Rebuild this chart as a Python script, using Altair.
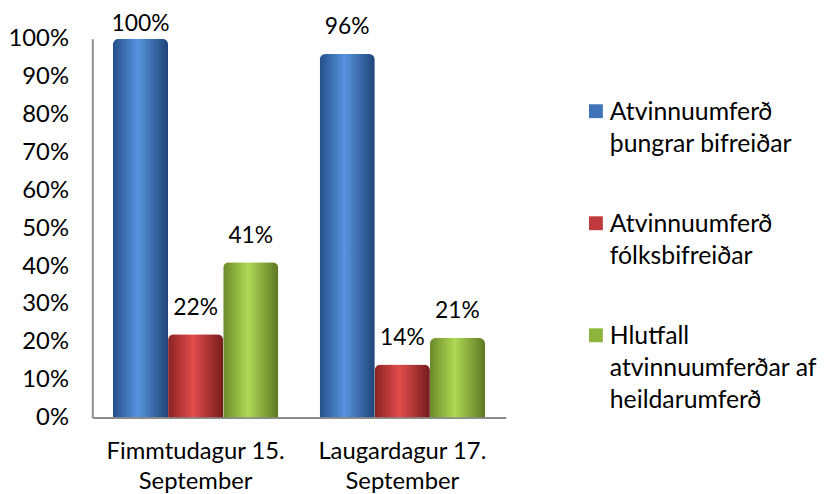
import altair as alt
import pandas as pd

categories = ["Fimmtudagur 15.\nSeptember", "Laugardagur 17.\nSeptember"]
series = [
    "Atvinnuumferð\nþungrar bifreiðar",
    "Atvinnuumferð\nfólksbifreiðar",
    "Hlutfall\natvinnuumferðar af\nheildarumferð",
]
heavy_values = [100, 96]
car_values = [22, 14]
share_values = [41, 21]
base_colors = ["#3f73b8", "#c0393b", "#8db53c"]
gradients = [
    ("#234f8a", "#5893df", "#1f4478"),
    ("#8a2222", "#e24c4c", "#761c1c"),
    ("#6a8a28", "#b0d854", "#5c7822"),
]

rows = []
for s, vals in zip(series, [heavy_values, car_values, share_values]):
    for c, v in zip(categories, vals):
        rows.append({"category": c, "series": s, "value": v})
df = pd.DataFrame(rows)
legend_df = pd.DataFrame({"series": series})

FONT = "Lato"
FS = 24

x_enc = alt.X(
    "category:N",
    sort=categories,
    scale=alt.Scale(paddingInner=0.2, paddingOuter=0.1),
    axis=alt.Axis(
        title=None, labelAngle=0, ticks=False, labelPadding=22,
        labelExpr="split(datum.label, '\\n')", labelFontSize=FS,
        labelLineHeight=31, labelColor="#000", domainColor="#8c8c8c",
        domainWidth=2, labelFont=FONT, labelLimit=400, labelOverlap=False,
    ),
)
xo_enc = alt.XOffset("series:N", sort=series, scale=alt.Scale(domain=series, paddingInner=0))
y_scale = alt.Scale(domain=[0, 100])
y_axis = alt.Axis(
    title=None, values=list(range(0, 101, 10)), labelExpr="datum.value + '%'",
    ticks=False, grid=False, labelPadding=24, labelFontSize=FS,
    labelColor="#000", domainColor="#8c8c8c", domainWidth=2, labelFont=FONT,
)
y_enc = alt.Y("value:Q", scale=y_scale, axis=y_axis)

base = alt.Chart(df)

layers = []
for s, (dark, light, dark2) in zip(series, gradients):
    grad = alt.Gradient(
        gradient="linear", x1=0, x2=1, y1=0, y2=0,
        stops=[
            alt.GradientStop(offset=0, color=dark),
            alt.GradientStop(offset=0.45, color=light),
            alt.GradientStop(offset=1, color=dark2),
        ],
    )
    layers.append(
        base.transform_filter(alt.datum.series == s)
        .mark_bar(color=grad, cornerRadiusTopLeft=6, cornerRadiusTopRight=6)
        .encode(x=x_enc, xOffset=xo_enc, y=y_enc)
    )

# label sits above the bar, kept inside the chart for the tallest bar
labels = base.transform_calculate(
    lbl="datum.value + '%'",
    lbl_y="min(datum.value + 5.2, 102.1)",
).mark_text(
    fontSize=23, font=FONT, color="#000", baseline="alphabetic"
).encode(
    x=x_enc, xOffset=xo_enc,
    y=alt.Y("lbl_y:Q", scale=y_scale, axis=y_axis),
    text="lbl:N",
)
layers.append(labels)

main = alt.layer(*layers).properties(width=417, height=382)

ly = alt.Y("series:N", sort=series,
           scale=alt.Scale(type="point", domain=series, range=[73, 299], padding=0),
           axis=None)
leg_sym = alt.Chart(legend_df).mark_square(size=196, opacity=1).encode(
    x=alt.value(61), y=ly,
    color=alt.Color("series:N", scale=alt.Scale(domain=series, range=base_colors), legend=None),
)
leg_txt = alt.Chart(legend_df).transform_calculate(
    lines="split(datum.series, '\\n')"
).mark_text(
    align="left", baseline="top", dy=-11, fontSize=25, font=FONT,
    lineHeight=32, color="#000",
).encode(x=alt.value(75), y=ly, text="lines:N")
legend_panel = alt.layer(leg_sym, leg_txt).properties(width=200, height=382)

chart = alt.hconcat(main, legend_panel, spacing=30).configure_view(
    stroke=None
).properties(background="white", padding={"left": 0, "top": 2, "right": 0, "bottom": 0})

chart.save("out.html", embed_options={"renderer": "svg", "actions": False})
